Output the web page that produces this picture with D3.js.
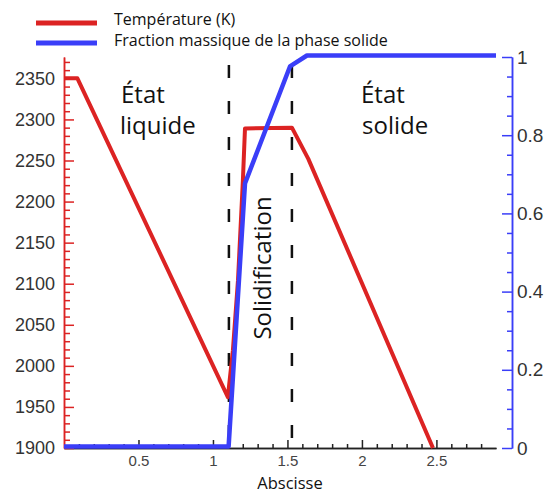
<!DOCTYPE html>
<html>
<head>
<meta charset="utf-8">
<script src="https://cdn.jsdelivr.net/npm/d3@7"></script>
<style>
  html, body { margin: 0; padding: 0; background: #fff; }
  svg { display: block; }
</style>
</head>
<body>
<svg id="chart" width="552" height="495"></svg>
<script>
// ---- Data ----
const tempX = [0, 0.09, 1.10, 1.134, 1.168, 1.201, 1.215, 1.53, 1.64, 2.477];
const tempY = [2350, 2350, 1962, 2019, 2104, 2226, 2289, 2290, 2252, 1900];
const fracX = [0, 1.105, 1.215, 1.517, 1.631, 2.9];
const fracY = [0, 0, 0.673, 0.972, 1, 1];
const xTicks = [0.5, 1, 1.5, 2, 2.5];
const tempTicks = [1900, 1950, 2000, 2050, 2100, 2150, 2200, 2250, 2300, 2350];
const fracTicks = [0, 0.2, 0.4, 0.6, 0.8, 1];
const phaseBounds = [1.107, 1.53];
const legendLabels = ["Température (K)", "Fraction massique de la phase solide"];
const xDomain = [0, 2.9];
const tempDomain = [1900, 2376];
const fracDomain = [0, 1];

// ---- Layout ----
const RED = "#dc2323", BLUE = "#3a3ef8";
const svg = d3.select("#chart");
const x = d3.scaleLinear(xDomain, [64, 496]);
const yL = d3.scaleLinear(tempDomain, [448, 57]);
const yR = d3.scaleLinear(fracDomain, [448, 57]);
const fmt = d3.format("~g");

function range(a, b, s) { const r = []; for (let v = a; v <= b + 1e-9; v += s) r.push(+v.toFixed(4)); return r; }

// X axis
const minorX = range(0.1, 2.8, 0.1).filter(v => !xTicks.some(t => Math.abs(t - v) < 1e-6));
const gxm = svg.append("g").attr("transform", "translate(0,448)")
  .call(d3.axisBottom(x).tickValues(minorX).tickSizeInner(-4).tickSizeOuter(0).tickFormat(""));
const gx = svg.append("g").attr("transform", "translate(0,448)")
  .call(d3.axisBottom(x).tickValues(xTicks).tickSizeInner(-8).tickSizeOuter(0).tickPadding(7).tickFormat(fmt));
[gxm, gx].forEach(g => g.selectAll("path, line").attr("stroke", "#222").attr("stroke-width", 1.5));
gx.selectAll("text").attr("font-family", "Liberation Sans, Arial, sans-serif").attr("font-size", 15).attr("fill", "#444");

// Left axis (temperature)
const minorL = range(1910, 2370, 10).filter(v => v % 50 !== 0);
const glm = svg.append("g").attr("transform", "translate(64,0)")
  .call(d3.axisLeft(yL).tickValues(minorL).tickSizeInner(-6).tickSizeOuter(0).tickFormat(""));
const gl = svg.append("g").attr("transform", "translate(64,0)")
  .call(d3.axisLeft(yL).tickValues(tempTicks).tickSizeInner(-10).tickSizeOuter(0).tickPadding(9).tickFormat(fmt));
[glm, gl].forEach(g => g.selectAll("path, line").attr("stroke", RED).attr("stroke-width", 1.5));
gl.selectAll("text").attr("font-family", "Liberation Sans, Arial, sans-serif").attr("font-size", 18).attr("fill", "#333");

// Right axis (fraction)
const minorR = range(0.05, 0.95, 0.05).filter(v => !fracTicks.some(t => Math.abs(t - v) < 1e-6));
const grm = svg.append("g").attr("transform", "translate(512,0)")
  .call(d3.axisRight(yR).tickValues(minorR).tickSizeInner(-5).tickSizeOuter(0).tickFormat(""));
const gr = svg.append("g").attr("transform", "translate(512,0)")
  .call(d3.axisRight(yR).tickValues(fracTicks).tickSizeInner(-10).tickSizeOuter(0).tickPadding(5).tickFormat(fmt));
[grm, gr].forEach(g => g.selectAll("path, line").attr("stroke", BLUE).attr("stroke-width", 1.5));
gr.selectAll("text").attr("font-family", "Liberation Sans, Arial, sans-serif").attr("font-size", 19).attr("fill", "#333");

// Dashed phase boundaries
svg.append("g").selectAll("line").data(phaseBounds).join("line")
  .attr("x1", d => x(d)).attr("x2", d => x(d))
  .attr("y1", 65).attr("y2", 448)
  .attr("stroke", "#111").attr("stroke-width", 2.5)
  .attr("stroke-dasharray", "13 23");

// Lines
const tempData = tempX.map((v, i) => [v, tempY[i]]);
const fracData = fracX.map((v, i) => [v, fracY[i]]);
svg.append("path").datum(tempData)
  .attr("fill", "none").attr("stroke", RED).attr("stroke-width", 4).attr("stroke-linejoin", "round")
  .attr("d", d3.line().x(d => x(d[0])).y(d => yL(d[1])));
svg.append("path").datum(fracData)
  .attr("fill", "none").attr("stroke", BLUE).attr("stroke-width", 4.5).attr("stroke-linejoin", "round")
  .attr("d", d3.line().x(d => x(d[0])).y(d => yR(d[1]) - 1.5));

// Legend
const FONT = "Open Sans, sans-serif";
const legend = svg.append("g");
[RED, BLUE].forEach((c, i) => {
  legend.append("line").attr("x1", 36).attr("x2", 97).attr("y1", 23 + i * 20).attr("y2", 23 + i * 20)
    .attr("stroke", c).attr("stroke-width", 5);
  legend.append("text").attr("x", 114).attr("y", 25 + i * 21).text(legendLabels[i])
    .attr("font-family", FONT).attr("font-size", 16).attr("fill", "#111");
});

// Annotations
const ann = svg.append("g").attr("font-family", FONT).attr("font-size", 24).attr("fill", "#111");
ann.append("text").attr("x", 121).attr("y", 103).text("État");
ann.append("text").attr("x", 120).attr("y", 134).text("liquide");
ann.append("text").attr("x", 361).attr("y", 103).text("État");
ann.append("text").attr("x", 362).attr("y", 134).text("solide");
ann.append("text").attr("transform", "translate(271,268) rotate(-90)").attr("text-anchor", "middle").text("Solidification");

svg.append("text").attr("x", 290).attr("y", 489).attr("text-anchor", "middle")
  .attr("font-family", FONT).attr("font-size", 16.5).attr("fill", "#111").text("Abscisse");
</script>
</body>
</html>
